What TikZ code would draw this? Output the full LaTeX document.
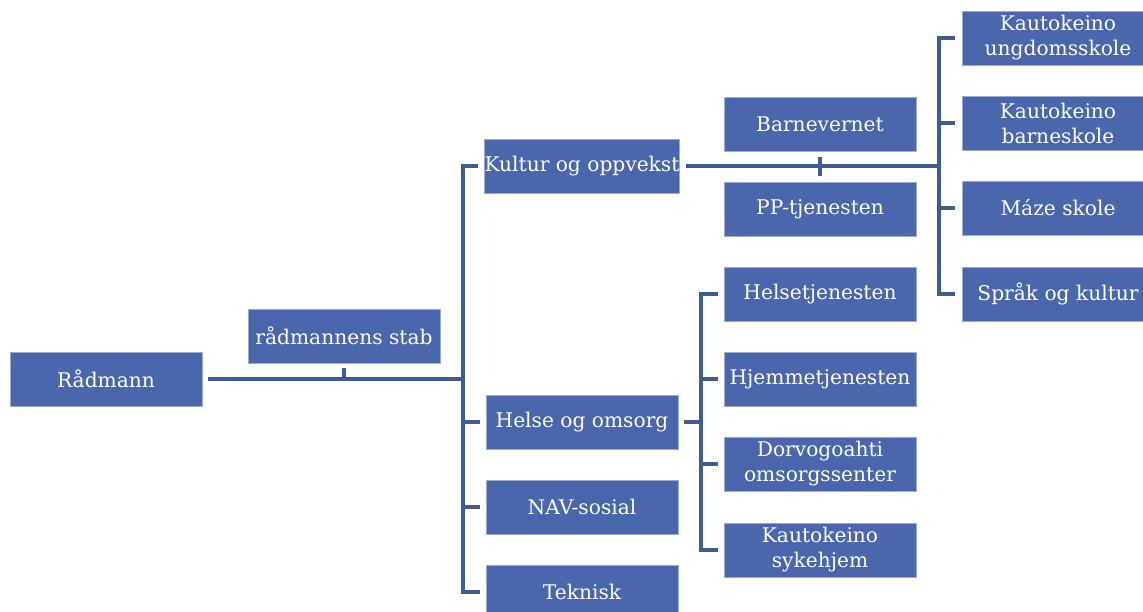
\documentclass[tikz,border=0pt]{standalone}
\usepackage{fontspec}
\setmainfont{DejaVu Serif}
\definecolor{boxblue}{HTML}{4A66AC}
\definecolor{linkblue}{HTML}{3E5A97}

\begin{document}
\begin{tikzpicture}[x=1pt,y=-1pt,
  unit/.style={fill=boxblue,draw=white!45!boxblue,line width=0.8pt,
    minimum width=192pt,minimum height=54pt,inner xsep=0pt,inner ysep=0pt,
    text=white,align=center,font=\fontsize{20.2}{25}\selectfont},
  link/.style={draw=linkblue,line width=4.5pt}]

\newcommand\GAP{6pt}

  \useasboundingbox (0,0) rectangle (1143,612);
  \clip (0,0) rectangle (1143,612);

  %% level 1
  \node[unit] (rad)  at (106,379) {Rådmann};
  \node[unit] (stab) at (344,336) {rådmannens stab};

  %% level 2
  \node[unit] (kultur)  at (582,166) {Kultur og oppvekst};
  \node[unit] (helse)   at (582,422) {Helse og omsorg};
  \node[unit] (nav)     at (582,507) {NAV-sosial};
  \node[unit] (teknisk) at (582,592) {Teknisk};

  %% under kultur
  \node[unit] (barnevern) at (820,124) {Barnevernet};
  \node[unit] (pp)        at (820,209) {PP-tjenesten};
  \node[unit] (ungdom) at (1058,38)  {Kautokeino\\ungdomsskole};
  \node[unit] (barne)  at (1058,123) {Kautokeino\\barneskole};
  \node[unit] (maze)   at (1058,208) {Máze skole};
  \node[unit] (sprak)  at (1058,294) {Språk og kultur};

  %% under helse
  \node[unit] (helsetj) at (820,294) {Helsetjenesten};
  \node[unit] (hjem)    at (820,379) {Hjemmetjenesten};
  \node[unit] (dorvo)   at (820,464) {Dorvogoahti\\omsorgssenter};
  \node[unit] (syke)    at (820,550) {Kautokeino\\sykehjem};

  %% bus points
  \coordinate (hub)  at (463,379);
  \coordinate (rbus) at (939,166);
  \coordinate (lbus) at (701,422);

  %% raadmann to level 2
  \draw[link] ([xshift=\GAP]rad.east) -- (hub);
  \draw[link] (stab.south |- hub) -- ([yshift=-5pt]stab.south); %% stab
  \draw[link] ([xshift=-\GAP]kultur.west) -| (hub) |- ([xshift=-\GAP]teknisk.west);
  \draw[link] (hub |- helse) -- ([xshift=-\GAP]helse.west);
  \draw[link] (hub |- nav) -- ([xshift=-\GAP]nav.west);

  %% kultur og oppvekst
  \draw[link] ([xshift=\GAP]kultur.east) -- (rbus);
  \draw[link] ([yshift=-\GAP]barnevern.south) -- ([yshift=\GAP]pp.north);
  \draw[link] ([xshift=-7pt]ungdom.west) -| (rbus) |- ([xshift=-7pt]sprak.west);
  \draw[link] (rbus |- barne) -- ([xshift=-7pt]barne.west);
  \draw[link] (rbus |- maze) -- ([xshift=-7pt]maze.west);

  %% helse og omsorg
  \draw[link] ([xshift=\GAP]helse.east) -- (lbus);
  \draw[link] ([xshift=-\GAP]helsetj.west) -| (lbus) |- ([xshift=-\GAP]syke.west);
  \draw[link] (lbus |- hjem) -- ([xshift=-\GAP]hjem.west);
  \draw[link] (lbus |- dorvo) -- ([xshift=-\GAP]dorvo.west);

\end{tikzpicture}
\end{document}
